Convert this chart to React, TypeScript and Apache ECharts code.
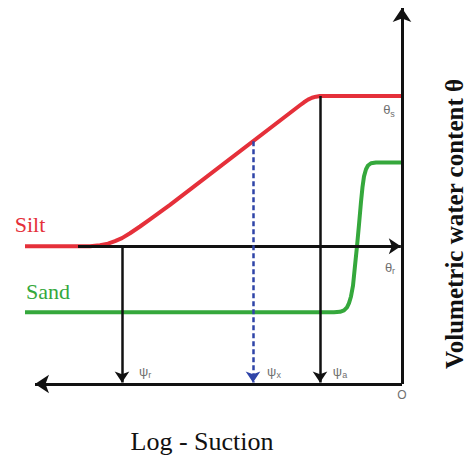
import React, { useEffect, useRef } from 'react';
import * as echarts from 'echarts';

// Log-suction (increasing leftward from the origin O) and volumetric water content θ
const siltSuction = [9.425, 7.8, 7.55, 7.35, 7.175, 7.0, 6.8, 6.55, 6.3, 5.8, 2.55, 2.45, 2.35, 2.25, 2.15, 2.05, 0];
const siltTheta = [0.368, 0.368, 0.371, 0.375, 0.382, 0.39, 0.403, 0.421, 0.44, 0.479, 0.745, 0.753, 0.76, 0.765, 0.768, 0.77, 0.77];
const sandSuction = [9.425, 1.7, 1.55, 1.45, 1.375, 1.325, 1.275, 1.225, 1.175, 1.125, 1.075, 1.025, 0.988, 0.95, 0.9, 0.85, 0.775, 0.65, 0];
const sandTheta = [0.192, 0.192, 0.193, 0.197, 0.205, 0.216, 0.234, 0.263, 0.316, 0.368, 0.426, 0.487, 0.526, 0.555, 0.574, 0.584, 0.59, 0.592, 0.592];

const thetaS = 0.77;
const thetaR = 0.368;
const psiNames = ['r', 'x', 'a'];
const psiSuction = [7.0, 3.725, 2.05];
const psiTheta = [0.368, 0.649, 0.77];

const SERIF = '"Liberation Serif", "Times New Roman", serif';
const SANS = '"Liberation Sans", Arial, sans-serif';
const GRAY = '#6f6f6f';
const RED = '#e5303a';
const GREEN = '#35a83c';
const BLUE = '#2f44a8';

export default function App() {
  const ref = useRef<HTMLDivElement>(null);
  useEffect(() => {
    const chart = echarts.init(ref.current!, null, { renderer: 'svg' });
    const zip = (xs: number[], ys: number[]) => xs.map((x, i) => [x, ys[i]]);
    const black = { color: '#111', width: 3, type: 'solid' as const };
    const axisLines = [
      // vertical θ axis with arrow up
      [
        { coord: [0, 0], symbol: 'none' },
        { coord: [0, 1.005], symbol: 'arrow', symbolSize: 14 },
      ],
      // log suction axis with arrow to the left
      [
        { coord: [0, 0], symbol: 'none' },
        { coord: [9.175, 0], symbol: 'arrow', symbolSize: 14 },
      ],
      // θr arrow to the right
      [
        { coord: [8.1, thetaR], symbol: 'none' },
        { coord: [0.03, thetaR], symbol: 'arrow', symbolSize: 12 },
      ],
    ];
    const psiLines = psiNames.map((n, i) => [
      { coord: [psiSuction[i], psiTheta[i]], symbol: 'none' },
      {
        coord: [psiSuction[i], 0.004],
        symbol: 'arrow',
        symbolSize: 11,
        lineStyle:
          n === 'x'
            ? { color: BLUE, width: 2.5, type: [5, 3] }
            : { color: '#111', width: 2.5, type: 'solid' },
        itemStyle: { color: n === 'x' ? BLUE : '#111' },
      },
    ]);
    const psiOffsets = [23, 21, 20];
    const labelRich = {
      p: { fontFamily: SANS, fontSize: 13, color: GRAY },
      s: { fontFamily: SANS, fontSize: 9, color: GRAY, padding: [8, 0, 0, 0] },
    };
    const option = {
      animation: false,
      grid: { left: 2, right: 66, top: 2.4, bottom: 69 },
      xAxis: {
        type: 'value',
        inverse: true,
        min: 0,
        max: 10,
        name: 'Log - Suction',
        nameLocation: 'middle',
        nameGap: 44,
        nameTextStyle: { fontFamily: SERIF, fontSize: 26, color: '#111' },
        axisLine: { show: false },
        axisTick: { show: false },
        axisLabel: { show: false },
        splitLine: { show: false },
      },
      yAxis: {
        type: 'value',
        min: 0,
        max: 1.02,
        axisLine: { show: false },
        axisTick: { show: false },
        axisLabel: { show: false },
        splitLine: { show: false },
      },
      graphic: [
        {
          type: 'text',
          x: 454,
          y: 224,
          rotation: Math.PI / 2,
          style: {
            text: 'Volumetric water content θ',
            fontFamily: SERIF,
            fontWeight: 'bold',
            fontSize: 25,
            fill: '#111',
            align: 'center',
            verticalAlign: 'middle',
          },
        },
      ],
      series: [
        {
          type: 'line',
          data: [],
          silent: true,
          markLine: {
            silent: true,
            animation: false,
            label: { show: false },
            lineStyle: black,
            itemStyle: { color: '#111' },
            data: [...axisLines, ...psiLines],
          },
          markPoint: {
            silent: true,
            symbol: 'circle',
            symbolSize: 0,
            data: [
              ...psiNames.map((n, i) => ({
                coord: [psiSuction[i], 0],
                label: {
                  show: true,
                  formatter: `{p|ψ}{s|${n}}`,
                  rich: labelRich,
                  offset: [psiOffsets[i], -13],
                },
              })),
              {
                coord: [0, thetaS],
                label: { show: true, formatter: '{p|θ}{s|s}', rich: labelRich, offset: [-13, 14] },
              },
              {
                coord: [0, thetaR],
                label: { show: true, formatter: '{p|θ}{s|r}', rich: labelRich, offset: [-12, 21] },
              },
              {
                coord: [0, 0],
                label: { show: true, formatter: 'O', fontFamily: SANS, fontSize: 12, color: GRAY, offset: [0, 11] },
              },
            ],
          },
        },
        {
          name: 'Silt',
          type: 'line',
          data: zip(siltSuction, siltTheta),
          showSymbol: false,
          smooth: false,
          lineStyle: { color: RED, width: 4, join: 'round' },
          itemStyle: { color: RED },
          markPoint: {
            symbol: 'circle',
            symbolSize: 0,
            data: [
              {
                coord: [siltSuction[0], siltTheta[0]],
                label: {
                  show: true,
                  formatter: 'Silt',
                  fontFamily: SERIF,
                  fontSize: 22,
                  color: RED,
                  offset: [5, -22],
                },
              },
            ],
          },
        },
        {
          name: 'Sand',
          type: 'line',
          data: zip(sandSuction, sandTheta),
          showSymbol: false,
          smooth: false,
          lineStyle: { color: GREEN, width: 4, join: 'round' },
          itemStyle: { color: GREEN },
          markPoint: {
            symbol: 'circle',
            symbolSize: 0,
            data: [
              {
                coord: [sandSuction[0], sandTheta[0]],
                label: {
                  show: true,
                  formatter: 'Sand',
                  fontFamily: SERIF,
                  fontSize: 22,
                  color: GREEN,
                  offset: [23, -21],
                },
              },
            ],
          },
        },
      ],
    };
    chart.setOption(option as any);
    return () => chart.dispose();
  }, []);
  return (
    <div
      ref={ref}
      style={{ position: 'absolute', left: 0, top: 0, width: 468, height: 459, background: '#fff' }}
    />
  );
}
